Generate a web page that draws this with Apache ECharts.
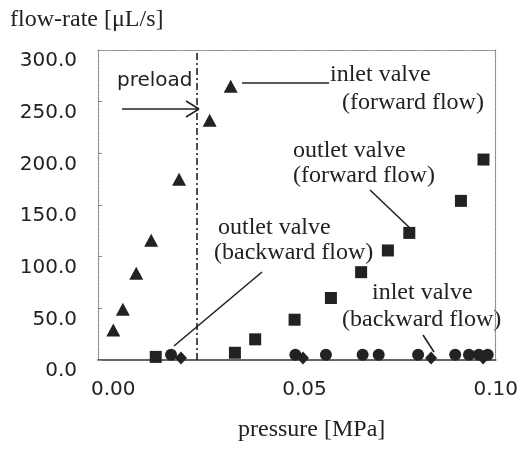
<!DOCTYPE html>
<html><head><meta charset="utf-8">
<script src="https://cdn.jsdelivr.net/npm/echarts@6/dist/echarts.min.js"></script>
<style>html,body{margin:0;padding:0;background:#fff}#c{width:521px;height:455px}</style>
</head><body><div id="c"></div>
<script>
// pressure [MPa], flow-rate [uL/s]
const inletForwardP = [0.000, 0.0025, 0.006, 0.0099, 0.0172, 0.0252, 0.0307];
const inletForwardQ = [29, 49, 84, 116, 175, 232, 265];
const outletForwardP = [0.0111, 0.0318, 0.0371, 0.0474, 0.0569, 0.0648, 0.0718, 0.0774, 0.0909, 0.0968];
const outletForwardQ = [3, 7, 20, 39, 60, 85, 106, 123, 154, 194];
const outletBackwardP = [0.0151, 0.0476, 0.0556, 0.0652, 0.0694, 0.0797, 0.0894, 0.0930, 0.0956, 0.0979];
const outletBackwardQ = [5, 5, 5, 5, 5, 5, 5, 5, 5, 5];
const inletBackwardP = [0.0177, 0.0496, 0.0831, 0.0967];
const inletBackwardQ = [2, 2, 2, 2];
const preloadPressure = 0.0219;
const xTickValues = [0, 0.05, 0.10];
const yTickValues = [0, 50, 100, 150, 200, 250, 300];

const zip = (a, b) => a.map((v, i) => [v, b[i]]);
const ink = '#222222';
const serif = '"Liberation Serif", "Times New Roman", serif';
const sans = '"DejaVu Sans", sans-serif';

const chart = echarts.init(document.getElementById('c'));
const txt = (x, y, s, font, size) => ({
  type: 'text', left: x, top: y - size * 0.6,
  style: { text: s, font: size + 'px ' + font, fill: ink }
});
const ln = (x1, y1, x2, y2) => ({
  type: 'line', shape: { x1, y1, x2, y2 }, style: { stroke: ink, lineWidth: 1.6 }
});
const frame = { show: true, onZero: false, lineStyle: { color: '#8a8a8a', type: 'dotted', width: 1.2 } };

chart.setOption({
  animation: false,
  grid: { left: 98, top: 50, width: 405, height: 310, containLabel: false },
  xAxis: [{
    type: 'value', min: -0.004, max: 0.1,
    axisLine: { show: true, onZero: false, lineStyle: { color: '#333', width: 1.5 } },
    axisTick: { show: false },
    splitLine: { show: false },
    axisLabel: { customValues: xTickValues, formatter: v => v.toFixed(2), margin: 20,
      fontFamily: sans, fontSize: 20, color: '#222' }
  }, {
    type: 'value', position: 'top', min: -0.004, max: 0.1,
    axisLine: frame,
    axisTick: { show: false }, axisLabel: { show: false }, splitLine: { show: false }
  }],
  yAxis: [{
    type: 'value', min: 0, max: 300, interval: 50,
    axisLine: frame,
    axisTick: { show: true, inside: true, length: 4, lineStyle: { color: '#888' } },
    splitLine: { show: false },
    axisLabel: { customValues: yTickValues, formatter: v => '{a|' + v.toFixed(1) + '}', margin: 21,
      rich: { a: { padding: [22, 0, 0, 0], fontFamily: sans, fontSize: 20, color: '#222' } } }
  }, {
    type: 'value', position: 'right', min: 0, max: 300,
    axisLine: frame,
    axisTick: { show: false }, axisLabel: { show: false }, splitLine: { show: false }
  }],
  series: [
    { name: 'inlet valve (forward flow)', type: 'scatter', symbol: 'triangle', symbolSize: [14, 13],
      itemStyle: { color: ink, opacity: 1 }, data: zip(inletForwardP, inletForwardQ),
      markLine: { silent: true, symbol: 'none', precision: 5, label: { show: false },
        lineStyle: { color: ink, type: [7, 3, 2, 3], width: 1.6 },
        data: [{ xAxis: preloadPressure }] } },
    { name: 'outlet valve (forward flow)', type: 'scatter', symbol: 'rect', symbolSize: 12,
      itemStyle: { color: ink, opacity: 1 }, data: zip(outletForwardP, outletForwardQ) },
    { name: 'outlet valve (backward flow)', type: 'scatter', symbol: 'circle', symbolSize: 12,
      itemStyle: { color: ink, opacity: 1 }, data: zip(outletBackwardP, outletBackwardQ) },
    { name: 'inlet valve (backward flow)', type: 'scatter', symbol: 'diamond', symbolSize: [12, 13],
      itemStyle: { color: ink, opacity: 1 }, data: zip(inletBackwardP, inletBackwardQ) }
  ],
  graphic: [
    txt(10, 22, 'flow-rate [μL/s]', serif, 24),
    txt(238, 432, 'pressure [MPa]', serif, 24),
    txt(117, 83, 'preload', sans, 20),
    ln(122, 109, 198, 109), ln(186, 101, 199, 109), ln(186, 117, 199, 109),
    ln(242, 83, 329, 83),
    txt(330, 77, 'inlet valve', serif, 24),
    txt(342, 105, '(forward flow)', serif, 24),
    txt(293, 153, 'outlet valve', serif, 24),
    txt(293, 178, '(forward flow)', serif, 24),
    ln(370, 190, 412, 230),
    txt(218, 230, 'outlet valve', serif, 24),
    txt(214, 255, '(backward flow)', serif, 24),
    ln(262, 272, 174, 346),
    txt(372, 295, 'inlet valve', serif, 24),
    txt(342, 322, '(backward flow)', serif, 24),
    ln(423, 335, 434, 352)
  ]
});
</script></body></html>
